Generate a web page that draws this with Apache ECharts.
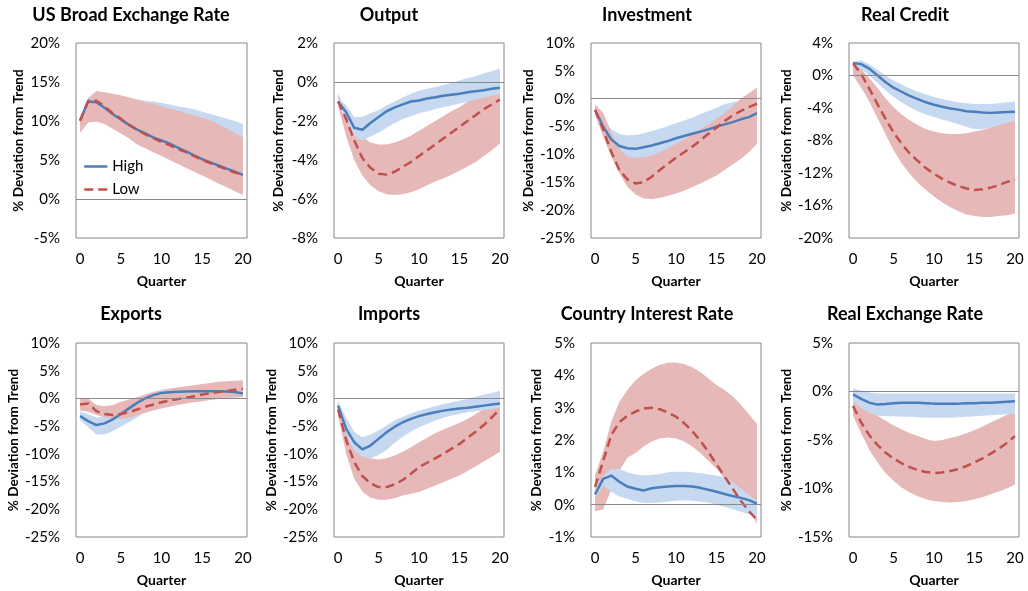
<!DOCTYPE html>
<html>
<head>
<meta charset="utf-8">
<script src="https://cdn.jsdelivr.net/npm/echarts@6/dist/echarts.min.js"></script>
<style>html,body{margin:0;padding:0;background:#fff}#c{width:1028px;height:591px}</style>
</head>
<body>
<div id="c"></div>
<script>
// ---------- DATA ----------
const quarters = ['0','1','2','3','4','5','6','7','8','9','10','11','12','13','14','15','16','17','18','19','20'];
const titles = ['US Broad Exchange Rate','Output','Investment','Real Credit','Exports','Imports','Country Interest Rate','Real Exchange Rate'];
const yMins = [-5, -8, -25, -20, -25, -25, -1, -15];
const yMaxs = [20, 2, 10, 4, 10, 10, 5, 5];
const ySteps = [5, 2, 5, 4, 5, 5, 1, 5];
const seriesNames = ['High', 'Low'];

// US Broad Exchange Rate
const usHigh   = [10.1,12.5,12.4,11.7,10.9,10.2,9.5,8.9,8.4,7.9,7.5,7.1,6.6,6.1,5.6,5.1,4.7,4.3,3.9,3.5,3.1];
const usLow    = [10.0,12.6,12.6,11.9,11.0,10.3,9.5,8.9,8.3,7.8,7.3,6.9,6.4,6.0,5.5,5.0,4.6,4.2,3.8,3.4,3.1];
const usHighUp = [10.3,13.0,13.8,13.6,13.4,13.2,13.0,12.8,12.6,12.5,12.3,12.1,11.9,11.7,11.5,11.2,10.9,10.6,10.3,10.0,9.6];
const usHighLo = [9.5,11.5,11.2,10.3,9.4,8.7,8.0,7.4,6.9,6.4,5.9,5.5,5.0,4.6,4.1,3.7,3.3,2.9,2.5,2.1,1.7];
const usLowUp  = [10.3,12.8,13.8,13.7,13.5,13.3,13.0,12.7,12.4,12.2,11.9,11.6,11.3,11.0,10.7,10.4,10.1,9.6,9.0,8.5,7.9];
const usLowLo  = [8.5,9.8,9.9,9.6,9.0,8.4,7.8,7.0,6.5,6.0,5.5,5.0,4.5,4.0,3.5,3.0,2.5,2.0,1.5,1.0,0.5];

// Output
const outHigh   = [-1.0,-1.55,-2.35,-2.45,-2.1,-1.8,-1.5,-1.3,-1.15,-1.0,-0.95,-0.85,-0.78,-0.7,-0.65,-0.6,-0.53,-0.47,-0.42,-0.35,-0.3];
const outLow    = [-1.0,-1.9,-3.0,-3.9,-4.4,-4.7,-4.75,-4.6,-4.35,-4.1,-3.8,-3.5,-3.2,-2.9,-2.6,-2.3,-2.0,-1.7,-1.4,-1.15,-0.9];
const outHighUp = [-0.8,-1.2,-1.8,-1.8,-1.6,-1.45,-1.2,-1.0,-0.8,-0.6,-0.45,-0.35,-0.25,-0.15,-0.05,0.08,0.2,0.3,0.45,0.55,0.68];
const outHighLo = [-1.2,-1.9,-2.8,-3.0,-2.8,-2.6,-2.35,-2.1,-1.9,-1.75,-1.6,-1.5,-1.4,-1.3,-1.2,-1.1,-1.0,-0.9,-0.8,-0.7,-0.6];
const outLowUp  = [-0.6,-1.5,-2.3,-2.8,-3.1,-3.2,-3.2,-3.1,-2.95,-2.75,-2.5,-2.25,-2.0,-1.75,-1.5,-1.3,-1.0,-0.75,-0.5,-0.2,0.2];
const outLowLo  = [-1.2,-2.8,-4.0,-4.8,-5.3,-5.6,-5.75,-5.8,-5.75,-5.65,-5.5,-5.3,-5.1,-4.95,-4.75,-4.55,-4.33,-4.1,-3.8,-3.5,-3.15];

// Investment
const invHigh   = [-2.0,-5.0,-7.3,-8.5,-8.9,-9.0,-8.7,-8.4,-8.0,-7.6,-7.1,-6.7,-6.3,-5.9,-5.5,-5.0,-4.6,-4.2,-3.7,-3.3,-2.6];
const invLow    = [-2.0,-5.5,-9.5,-12.8,-14.5,-15.2,-15.0,-14.0,-12.8,-11.7,-10.6,-9.6,-8.6,-7.5,-6.3,-5.2,-4.0,-3.0,-2.2,-1.5,-0.9];
const invHighUp = [-1.5,-3.5,-5.5,-6.3,-6.6,-6.5,-6.2,-5.8,-5.4,-4.9,-4.4,-3.9,-3.4,-2.8,-2.2,-1.6,-1.0,-0.6,-0.4,-0.3,-0.2];
const invHighLo = [-2.5,-6.0,-9.0,-10.5,-11.0,-11.3,-11.2,-11.0,-10.7,-10.4,-10.0,-9.6,-9.2,-8.7,-8.2,-7.7,-7.2,-6.7,-6.2,-5.7,-5.2];
const invLowUp  = [-1.0,-2.5,-6.0,-9.0,-10.4,-10.6,-10.5,-10.2,-9.6,-8.9,-8.1,-7.3,-6.4,-5.5,-4.6,-3.6,-2.5,-1.3,0.0,1.0,2.0];
const invLowLo  = [-2.9,-6.8,-10.4,-13.4,-15.8,-17.2,-17.9,-18.0,-17.8,-17.4,-17.0,-16.5,-15.9,-15.2,-14.5,-13.8,-12.8,-11.8,-10.8,-9.6,-8.1];

// Real Credit
const crHigh   = [1.55,1.4,0.85,0.03,-0.8,-1.5,-2.0,-2.5,-2.9,-3.3,-3.6,-3.85,-4.05,-4.2,-4.4,-4.45,-4.55,-4.6,-4.55,-4.5,-4.45];
const crLow    = [1.5,0.2,-1.6,-3.5,-5.3,-7.0,-8.4,-9.6,-10.5,-11.4,-12.1,-12.7,-13.2,-13.6,-13.9,-14.1,-14.0,-13.8,-13.5,-13.1,-12.8];
const crHighUp = [1.7,1.85,1.4,0.7,0.0,-0.6,-1.1,-1.6,-2.0,-2.35,-2.65,-2.9,-3.1,-3.3,-3.4,-3.5,-3.5,-3.5,-3.4,-3.3,-3.2];
const crHighLo = [1.2,0.8,0.0,-0.9,-1.8,-2.6,-3.3,-3.9,-4.4,-4.8,-5.1,-5.4,-5.7,-6.0,-6.3,-6.6,-6.6,-6.4,-6.1,-5.8,-5.6];
const crLowUp  = [1.5,0.8,-0.3,-1.5,-2.8,-3.9,-4.8,-5.5,-6.1,-6.6,-6.9,-7.1,-7.2,-7.2,-7.1,-6.9,-6.7,-6.4,-6.0,-5.6,-5.2];
const crLowLo  = [0.0,-1.5,-3.2,-5.2,-7.2,-9.2,-10.8,-12.1,-13.2,-14.1,-14.9,-15.6,-16.2,-16.7,-17.1,-17.3,-17.4,-17.4,-17.3,-17.2,-17.0];

// Exports
const exHigh   = [-3.2,-4.1,-4.8,-4.5,-3.8,-2.8,-1.8,-0.8,0.0,0.6,1.0,1.1,1.2,1.25,1.3,1.3,1.3,1.3,1.25,1.15,0.9];
const exLow    = [-1.1,-0.9,-2.3,-2.8,-3.0,-2.8,-2.5,-2.0,-1.5,-1.1,-0.7,-0.4,-0.1,0.1,0.4,0.7,0.95,1.15,1.3,1.55,1.75];
const exHighUp = [-2.3,-2.8,-3.5,-3.2,-2.4,-1.5,-0.7,0.0,0.7,1.2,1.6,1.8,1.9,2.0,2.0,2.0,2.0,2.0,2.0,2.0,2.0];
const exHighLo = [-3.9,-5.2,-6.5,-6.5,-5.9,-5.1,-4.3,-3.4,-2.5,-1.7,-1.1,-0.7,-0.5,-0.4,-0.3,-0.2,-0.2,-0.1,0.0,0.1,0.2];
const exLowUp  = [0.0,0.0,-1.2,-1.4,-1.2,-0.6,-0.2,0.2,0.7,1.1,1.4,1.7,2.0,2.2,2.4,2.6,2.8,3.0,3.1,3.2,3.3];
const exLowLo  = [-2.2,-2.4,-3.0,-3.4,-3.6,-3.7,-3.5,-3.1,-2.6,-2.2,-1.8,-1.5,-1.2,-0.9,-0.7,-0.5,-0.3,-0.1,0.1,0.2,0.3];

// Imports
const imHigh   = [-1.3,-5.5,-7.9,-9.2,-8.5,-7.3,-6.1,-5.1,-4.3,-3.7,-3.2,-2.8,-2.5,-2.2,-2.0,-1.8,-1.7,-1.5,-1.3,-1.1,-0.9];
const imLow    = [-2.0,-7.5,-11.5,-14.0,-15.3,-16.0,-16.0,-15.5,-14.7,-13.6,-12.4,-11.6,-10.8,-10.0,-9.1,-8.2,-7.1,-6.0,-4.8,-3.4,-1.9];
const imHighUp = [-0.5,-3.5,-6.0,-7.0,-6.5,-5.8,-4.9,-4.0,-3.3,-2.7,-2.2,-1.8,-1.4,-1.0,-0.7,-0.4,-0.1,0.3,0.7,1.0,1.4];
const imHighLo = [-2.0,-6.5,-9.5,-10.5,-10.8,-10.2,-9.3,-8.0,-6.9,-6.0,-5.2,-4.6,-4.0,-3.5,-3.1,-2.8,-2.5,-2.3,-2.1,-1.9,-1.7];
const imLowUp  = [-0.5,-4.5,-8.0,-10.0,-10.8,-11.0,-10.8,-10.3,-9.6,-8.8,-7.9,-7.1,-6.3,-5.6,-5.0,-4.4,-3.7,-2.8,-1.9,-0.9,0.1];
const imLowLo  = [-3.0,-10.0,-14.5,-16.8,-17.9,-18.3,-18.3,-18.0,-17.5,-17.2,-16.9,-16.3,-15.7,-15.1,-14.5,-13.9,-13.1,-12.3,-11.4,-10.5,-9.6];

// Country Interest Rate
const irHigh   = [0.32,0.8,0.9,0.71,0.56,0.49,0.44,0.51,0.54,0.56,0.58,0.58,0.56,0.52,0.46,0.4,0.33,0.27,0.21,0.14,0.03];
const irLow    = [0.55,1.35,2.15,2.55,2.75,2.88,2.97,3.0,2.95,2.85,2.72,2.52,2.28,1.98,1.63,1.25,0.87,0.5,0.12,-0.2,-0.47];
const irHighUp = [0.5,0.88,1.1,1.1,1.0,0.93,0.9,0.92,0.95,1.0,1.02,1.02,1.0,0.97,0.93,0.9,0.85,0.7,0.5,0.3,0.12];
const irHighLo = [0.2,0.6,0.4,0.25,0.18,0.1,0.06,0.05,0.07,0.1,0.12,0.13,0.12,0.1,0.06,0.0,-0.07,-0.14,-0.22,-0.3,-0.38];
const irLowUp  = [0.92,1.64,2.56,3.18,3.55,3.85,4.05,4.2,4.33,4.39,4.4,4.35,4.25,4.1,3.9,3.7,3.55,3.35,3.1,2.8,2.5];
const irLowLo  = [-0.2,-0.15,0.45,1.05,1.45,1.6,1.8,1.95,2.05,2.08,2.05,1.95,1.8,1.6,1.35,1.12,0.8,0.5,0.2,-0.15,-0.6];

// Real Exchange Rate
const rxHigh   = [-0.3,-0.75,-1.15,-1.35,-1.3,-1.2,-1.15,-1.15,-1.15,-1.2,-1.25,-1.25,-1.25,-1.25,-1.2,-1.2,-1.15,-1.15,-1.1,-1.05,-1.0];
const rxLow    = [-1.5,-3.2,-4.5,-5.5,-6.3,-6.9,-7.4,-7.8,-8.1,-8.3,-8.4,-8.35,-8.2,-8.0,-7.7,-7.3,-6.9,-6.4,-5.9,-5.3,-4.6];
const rxHighUp = [0.3,0.1,-0.1,-0.2,-0.2,-0.2,-0.2,-0.2,-0.2,-0.2,-0.2,-0.2,-0.2,-0.2,-0.2,-0.2,-0.2,-0.2,-0.2,-0.2,-0.2];
const rxHighLo = [-1.0,-1.7,-2.2,-2.5,-2.55,-2.55,-2.6,-2.6,-2.65,-2.7,-2.7,-2.7,-2.7,-2.65,-2.6,-2.55,-2.5,-2.45,-2.4,-2.35,-2.3];
const rxLowUp  = [-0.3,-1.2,-1.9,-2.5,-3.0,-3.5,-3.9,-4.3,-4.6,-4.9,-5.1,-5.0,-4.8,-4.6,-4.3,-4.0,-3.6,-3.2,-2.8,-2.4,-2.0];
const rxLowLo  = [-2.5,-4.3,-6.0,-7.3,-8.4,-9.2,-9.9,-10.4,-10.8,-11.1,-11.3,-11.4,-11.45,-11.4,-11.3,-11.1,-10.9,-10.6,-10.3,-10.0,-9.6];

const panels = [
  {high: usHigh, low: usLow, hUp: usHighUp, hLo: usHighLo, lUp: usLowUp, lLo: usLowLo},
  {high: outHigh, low: outLow, hUp: outHighUp, hLo: outHighLo, lUp: outLowUp, lLo: outLowLo},
  {high: invHigh, low: invLow, hUp: invHighUp, hLo: invHighLo, lUp: invLowUp, lLo: invLowLo},
  {high: crHigh, low: crLow, hUp: crHighUp, hLo: crHighLo, lUp: crLowUp, lLo: crLowLo},
  {high: exHigh, low: exLow, hUp: exHighUp, hLo: exHighLo, lUp: exLowUp, lLo: exLowLo},
  {high: imHigh, low: imLow, hUp: imHighUp, hLo: imHighLo, lUp: imLowUp, lLo: imLowLo},
  {high: irHigh, low: irLow, hUp: irHighUp, hLo: irHighLo, lUp: irLowUp, lLo: irLowLo},
  {high: rxHigh, low: rxLow, hUp: rxHighUp, hLo: rxHighLo, lUp: rxLowUp, lLo: rxLowLo}
];

// ---------- LAYOUT / STYLE ----------
const gridLefts = [76, 334, 591, 849, 76, 334, 591, 849];
const gridWidths = [171, 170, 170, 170, 171, 170, 170, 170];
const gridTops = [43, 43, 43, 43, 343, 343, 343, 343];
const gridHeights = [195, 195, 195, 195, 194, 194, 194, 194];
const titleXs = [131, 389, 647, 905, 131, 389, 647, 905];
const titleTops = [6, 6, 6, 6, 305, 305, 305, 305];
const yNameGaps = [50, 48, 53, 53, 54, 54, 47, 53];
const redOnTop = [true, false, true, false, true, false, false, false];

const BLUE = '#4A7EBB', RED = '#C0504D', BLUE_BAND = '#C6D9F1', RED_BAND = '#E6B9B8';
const FONT = 'Lato, "Open Sans", sans-serif';
const DASH = [9, 5];

const grid = [], xAxis = [], yAxis = [], title = [], series = [];

function band(idx, lo, up, color, key) {
  return [
    {type: 'line', name: key + '_base', xAxisIndex: idx, yAxisIndex: idx, data: lo, stack: key, stackStrategy: 'all',
     symbol: 'none', lineStyle: {opacity: 0, width: 0}, silent: true, z: 1},
    {type: 'line', name: key + '_band', xAxisIndex: idx, yAxisIndex: idx,
     data: up.map((u, i) => +(u - lo[i]).toFixed(4)), stack: key, stackStrategy: 'all',
     symbol: 'none', lineStyle: {opacity: 0, width: 0}, areaStyle: {color: color, opacity: 1}, silent: true, z: 1}
  ];
}

panels.forEach((p, i) => {
  grid.push({left: gridLefts[i], top: gridTops[i], width: gridWidths[i], height: gridHeights[i],
             show: true, borderColor: '#868686', borderWidth: 1, backgroundColor: 'transparent', containLabel: false});
  xAxis.push({type: 'category', gridIndex: i, data: quarters, boundaryGap: true,
              axisLine: {show: false}, axisTick: {show: false}, splitLine: {show: false},
              axisLabel: {interval: 4, margin: 14, fontSize: 15, color: '#000', fontFamily: FONT},
              name: 'Quarter', nameLocation: 'middle', nameGap: 36,
              nameTextStyle: {fontSize: 14, fontWeight: 'bold', color: '#000', fontFamily: FONT}});
  yAxis.push({type: 'value', gridIndex: i, min: yMins[i], max: yMaxs[i], interval: ySteps[i],
              axisLine: {show: false}, axisTick: {show: false}, splitLine: {show: false},
              axisLabel: {formatter: v => v + '%', margin: 16, fontSize: 15, color: '#000', fontFamily: FONT},
              name: '% Deviation from Trend', nameLocation: 'middle', nameGap: yNameGaps[i], nameRotate: 90,
              nameTextStyle: {fontSize: 13.5, fontWeight: 'bold', color: '#000', fontFamily: FONT}});
  title.push({text: titles[i], left: titleXs[i], top: titleTops[i], textAlign: 'center', padding: 0,
              textStyle: {fontSize: 18, fontWeight: 'bold', color: '#000', fontFamily: FONT}});
  const blueBand = band(i, p.hLo, p.hUp, BLUE_BAND, 'hb' + i);
  const redBand = band(i, p.lLo, p.lUp, RED_BAND, 'lb' + i);
  if (redOnTop[i]) { series.push(...blueBand, ...redBand); } else { series.push(...redBand, ...blueBand); }
  series.push({type: 'line', name: seriesNames[0], xAxisIndex: i, yAxisIndex: i, data: p.high, symbol: 'none', z: 3,
               lineStyle: {color: BLUE, width: 2.5}, itemStyle: {color: BLUE}, silent: true,
               markLine: {silent: true, symbol: 'none', label: {show: false}, animation: false,
                          lineStyle: {color: '#8a8a8a', width: 1, type: 'solid'}, data: [{yAxis: 0}]}});
  series.push({type: 'line', name: seriesNames[1], xAxisIndex: i, yAxisIndex: i, data: p.low, symbol: 'none', z: 4,
               lineStyle: {color: RED, width: 2.5, type: DASH}, itemStyle: {color: RED}, silent: true});
});

const chart = echarts.init(document.getElementById('c'), null, {renderer: 'canvas'});
chart.setOption({
  animation: false,
  backgroundColor: '#fff',
  title: title,
  grid: grid,
  xAxis: xAxis,
  yAxis: yAxis,
  legend: {
    data: [
      {name: seriesNames[0], itemStyle: {opacity: 0}, lineStyle: {color: BLUE, width: 2.5, type: 'solid'}},
      {name: seriesNames[1], itemStyle: {opacity: 0}, lineStyle: {color: RED, width: 2.5, type: DASH}}
    ],
    orient: 'vertical', left: 83, top: 159, itemWidth: 23, itemHeight: 14, itemGap: 8,
    padding: 0, selectedMode: false, textStyle: {fontSize: 15, color: '#000', fontFamily: FONT}
  },
  series: series
});
</script>
</body>
</html>
